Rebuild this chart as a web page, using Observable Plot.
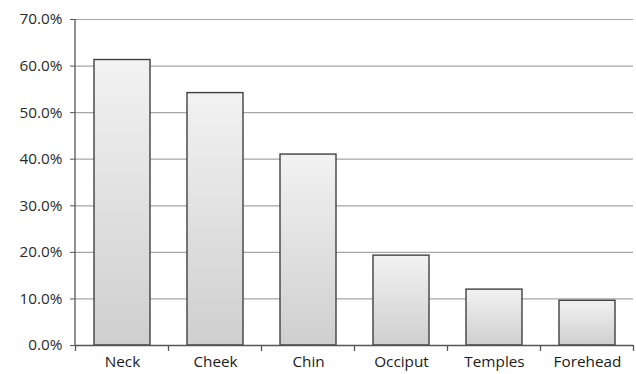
<!DOCTYPE html>
<html>
<head>
<meta charset="utf-8">
<script src="https://cdn.jsdelivr.net/npm/d3@7"></script>
<script src="https://cdn.jsdelivr.net/npm/@observablehq/plot@0.6"></script>
<style>
  html, body { margin: 0; padding: 0; background: #fff; }
  #chart svg { display: block; }
</style>
</head>
<body>
<div id="chart"></div>
<script>
// Share of cases by anatomical site
const sites = ["Neck", "Cheek", "Chin", "Occiput", "Temples", "Forehead"];
const shares = [61.3, 54.2, 41.0, 19.3, 12.0, 9.6];
const yTicks = [0, 10, 20, 30, 40, 50, 60, 70];

const data = sites.map((site, i) => ({site, share: shares[i]}));

const plot = Plot.plot({
  width: 636,
  height: 374,
  marginLeft: 75,
  marginRight: 3,
  marginTop: 19,
  marginBottom: 29,
  style: {background: "#fff"},
  x: {domain: sites, paddingInner: 0.4, paddingOuter: 0.2, label: null},
  y: {domain: [0, 70], label: null},
  marks: [
    Plot.ruleY(yTicks.filter(d => d > 0), {stroke: "#a6a6a6", strokeWidth: 1.2}),
    Plot.barY(data, {x: "site", y: "share", fill: "url(#barGrad)", stroke: "#404040", strokeWidth: 1.4,
      style: "filter: drop-shadow(1.5px 1.5px 1px rgba(0,0,0,0.18))"}),
    Plot.axisY({ticks: yTicks, tickSize: 5, tickPadding: 8, tickFormat: d => d.toFixed(1) + "%", stroke: "#555", fill: "#2a2a2a"}),
    Plot.axisX({tickSize: 0, tickPadding: 11, fill: "#1a1a1a"}),
    Plot.ruleY([0], {stroke: "#555", strokeWidth: 1.3})
  ]
});

const svg = d3.select(plot);
svg.selectAll("text")
  .style("font-family", "'Open Sans', sans-serif")
  .style("font-size", "15.3px");

// gradient fill for the bars
const grad = svg.insert("defs", ":first-child").append("linearGradient")
  .attr("id", "barGrad").attr("x1", 0).attr("y1", 0).attr("x2", 0).attr("y2", 1);
grad.append("stop").attr("offset", "0%").attr("stop-color", "#f2f2f2");
grad.append("stop").attr("offset", "100%").attr("stop-color", "#cfcfcf");

// vertical axis line and category separator ticks, placed from the scales
const xs = plot.scale("x");
const ys = plot.scale("y");
const y0 = ys.apply(0), yTop = ys.apply(70);
const edges = sites.map(s => xs.apply(s) - (xs.step - xs.bandwidth) / 2);
edges.push(edges[edges.length - 1] + xs.step);
const g = svg.append("g").attr("stroke", "#555").attr("stroke-width", 1.3);
g.append("line").attr("x1", xs.range[0]).attr("x2", xs.range[0]).attr("y1", yTop).attr("y2", y0);
edges.forEach(x => {
  g.append("line").attr("x1", x).attr("x2", x).attr("y1", y0).attr("y2", y0 + 6);
});

document.getElementById("chart").appendChild(plot);
</script>
</body>
</html>
